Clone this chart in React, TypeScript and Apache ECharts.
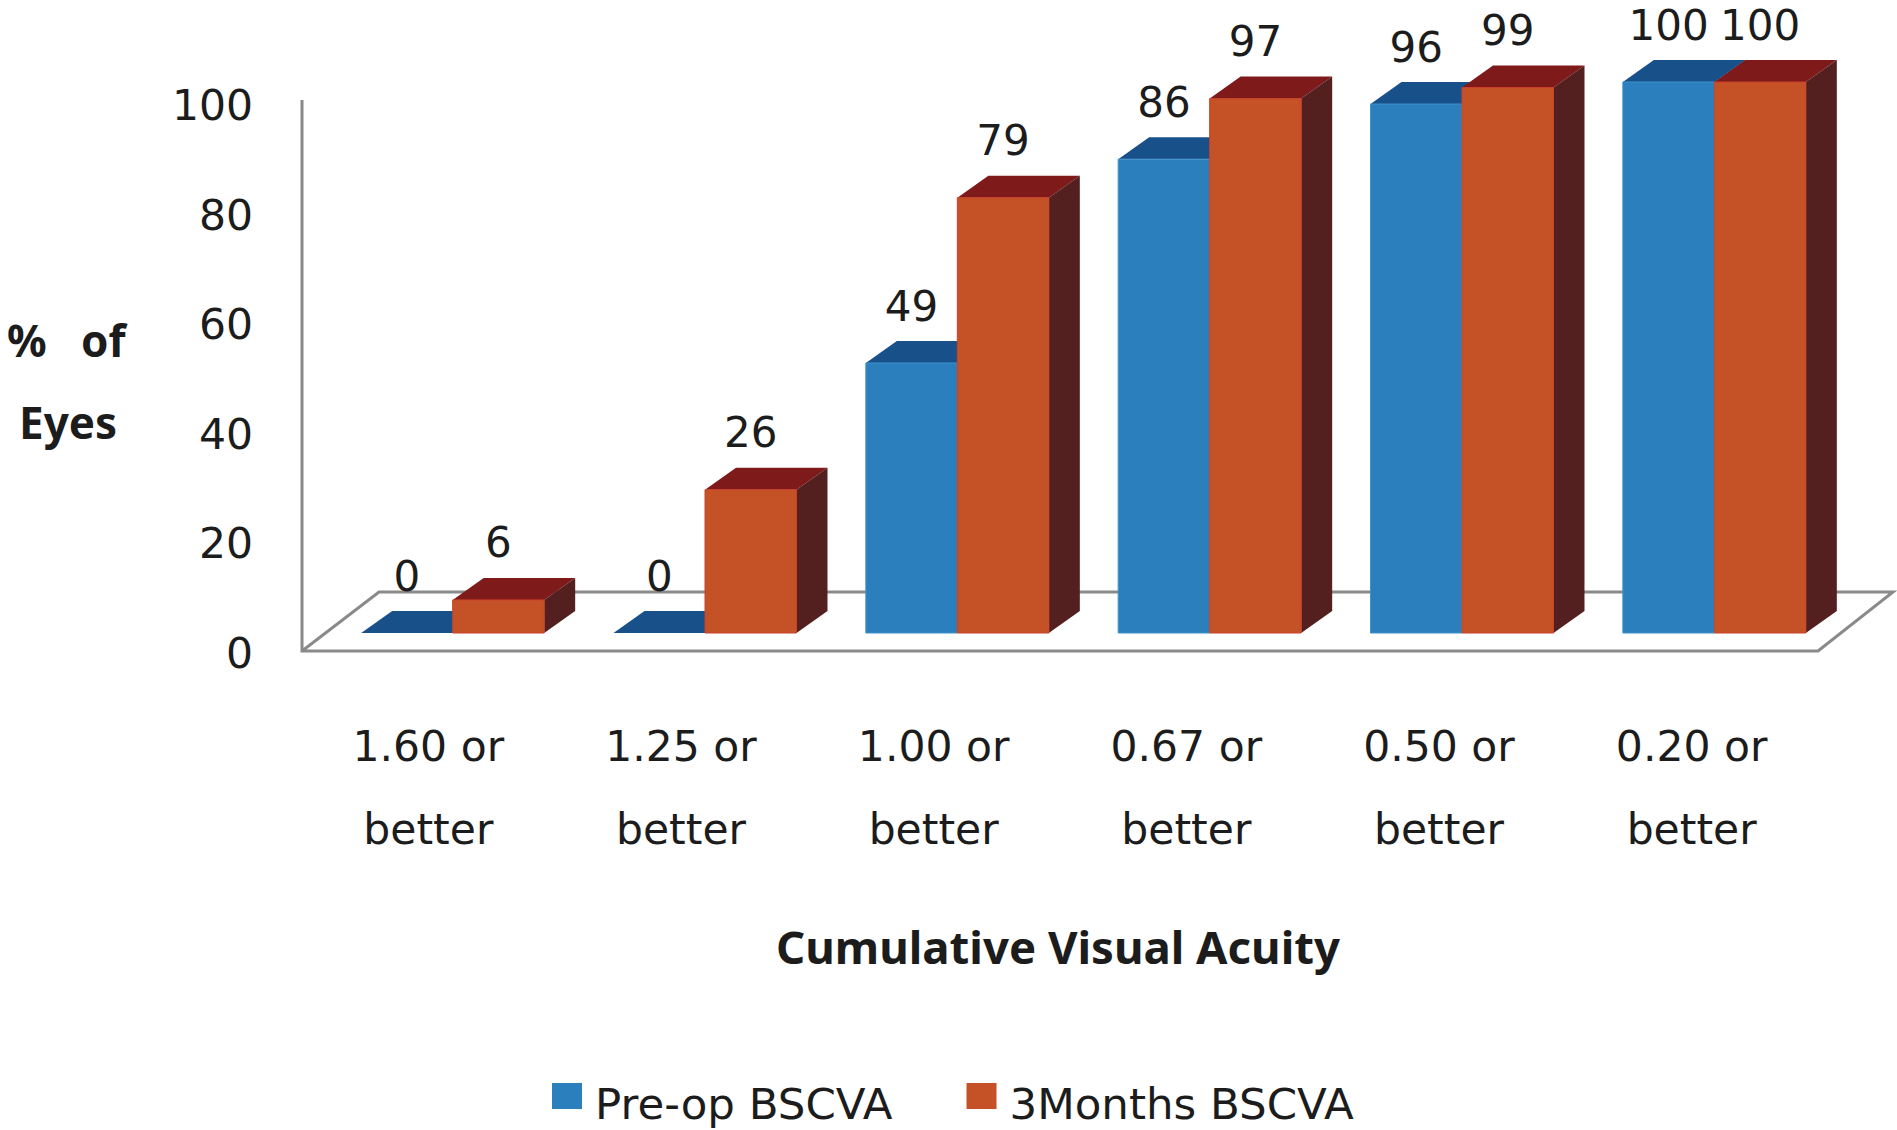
import React, { useEffect, useRef } from "react";
import * as echarts from "echarts";

const categories = ["1.60 or\nbetter", "1.25 or\nbetter", "1.00 or\nbetter", "0.67 or\nbetter", "0.50 or\nbetter", "0.20 or\nbetter"];
const preOp = [0, 0, 49, 86, 96, 100];
const threeMonths = [6, 26, 79, 97, 99, 100];
const yTicks = { min: 0, max: 100, interval: 20 };
const seriesNames = ["Pre-op BSCVA", "3Months BSCVA"];

const FONT = "DejaVu Sans";
const BOLD = "Noto Sans";
const TEXT = "#1c1c1c";
const AXIS = "#8a8a8a";
const BAR_W = 91.5;
const DX = 31;
const DY = 22;
const LEGEND_ICON = "path://M0 4H30V30H0Z M0 0H0.01V0.01H0Z M0 50H0.01V50.01H0Z";

function bar3d(side: number, front: string, top: string, right: string, edge: string) {
  return (_p: any, api: any) => {
    const cat = api.value(0);
    const val = api.value(1);
    const [cx, yTop] = api.coord([cat, val]);
    const [, yBase] = api.coord([cat, 0]);
    const x0 = cx + (side === 0 ? -BAR_W : 0);
    const x1 = x0 + BAR_W;
    const children: any[] = [];
    children.push({
      type: "polygon",
      shape: { points: [[x0, yTop], [x0 + DX, yTop - DY], [x1 + DX, yTop - DY], [x1, yTop]] },
      style: { fill: top },
    });
    if (yBase - yTop > 0.5) {
      children.push({
        type: "polygon",
        shape: { points: [[x1, yTop], [x1 + DX, yTop - DY], [x1 + DX, yBase - DY], [x1, yBase]] },
        style: { fill: right },
      });
      children.push({
        type: "rect",
        shape: { x: x0, y: yTop, width: BAR_W, height: yBase - yTop },
        style: { fill: front, stroke: edge, lineWidth: 1 },
      });
    }
    children.push({
      type: "text",
      style: {
        x: (x0 + x1) / 2,
        y: yTop - 57,
        text: String(val),
        fill: TEXT,
        font: `42px "${FONT}"`,
        align: "center",
        verticalAlign: "middle",
      },
    });
    return { type: "group", children };
  };
}

export default function App() {
  const ref = useRef<HTMLDivElement>(null);
  useEffect(() => {
    const chart = echarts.init(ref.current!, null, { renderer: "svg" });
    chart.setOption({
      animation: false,
      backgroundColor: "#ffffff",
      textStyle: { fontFamily: FONT, color: TEXT },
      grid: [
        { left: 302, top: 105.5, width: 1516, height: 548 },
        { left: 326.5, top: 82, width: 1514, height: 551 },
      ],
      xAxis: [
        {
          type: "category",
          gridIndex: 0,
          data: categories,
          axisLine: { show: false },
          axisTick: { show: false },
          axisLabel: { color: TEXT, fontSize: 42.5, fontFamily: FONT, lineHeight: 83, margin: 51.5 },
        },
        { type: "category", gridIndex: 1, data: categories, show: false },
      ],
      yAxis: [
        {
          type: "value",
          gridIndex: 0,
          ...yTicks,
          axisLine: { show: false },
          axisTick: { show: false },
          splitLine: { show: false },
          axisLabel: { color: TEXT, fontSize: 42.5, fontFamily: FONT, margin: 49 },
        },
        { type: "value", gridIndex: 1, ...yTicks, show: false },
      ],
      legend: {
        left: 547,
        top: 1074,
        itemWidth: 30,
        itemHeight: 50,
        itemGap: 74,
        selectedMode: false,
        textStyle: { color: TEXT, fontSize: 43.5, fontFamily: FONT, padding: [0, 0, 0, 8] },
        data: seriesNames.map((name, i) => ({
          name,
          icon: LEGEND_ICON,
          itemStyle: { color: i === 0 ? "#2a7fbc" : "#c55226" },
        })),
      },
      graphic: [
        {
          type: "polyline",
          z: 0,
          shape: { points: [[302, 100], [302, 651], [1818, 651], [1893, 592], [379, 592], [302, 651]] },
          style: { stroke: AXIS, lineWidth: 3, fill: "none" },
        },
        { type: "text", x: 7, y: 340, style: { text: "%   of", font: `bold 44px "${BOLD}"`, fill: TEXT, verticalAlign: "middle" } },
        { type: "text", x: 19, y: 422, style: { text: "Eyes", font: `bold 44px "${BOLD}"`, fill: TEXT, verticalAlign: "middle" } },
        { type: "text", x: 1058, y: 946, style: { text: "Cumulative Visual Acuity", font: `bold 45.5px "${BOLD}"`, fill: TEXT, align: "center", verticalAlign: "middle" } },
      ],
      series: [
        {
          name: seriesNames[0],
          type: "custom",
          xAxisIndex: 1,
          yAxisIndex: 1,
          z: 5,
          clip: false,
          renderItem: bar3d(0, "#2a7fbc", "#18508a", "#18508a", "#3f93cc"),
          data: preOp.map((v, i) => [i, v]),
        },
        {
          name: seriesNames[1],
          type: "custom",
          xAxisIndex: 1,
          yAxisIndex: 1,
          z: 6,
          clip: false,
          renderItem: bar3d(1, "#c55226", "#7f1a1a", "#53201f", "#c9402a"),
          data: threeMonths.map((v, i) => [i, v]),
        },
      ],
    });
    return () => chart.dispose();
  }, []);
  return <div ref={ref} style={{ position: "absolute", left: 0, top: 0, width: 1897, height: 1130 }} />;
}
